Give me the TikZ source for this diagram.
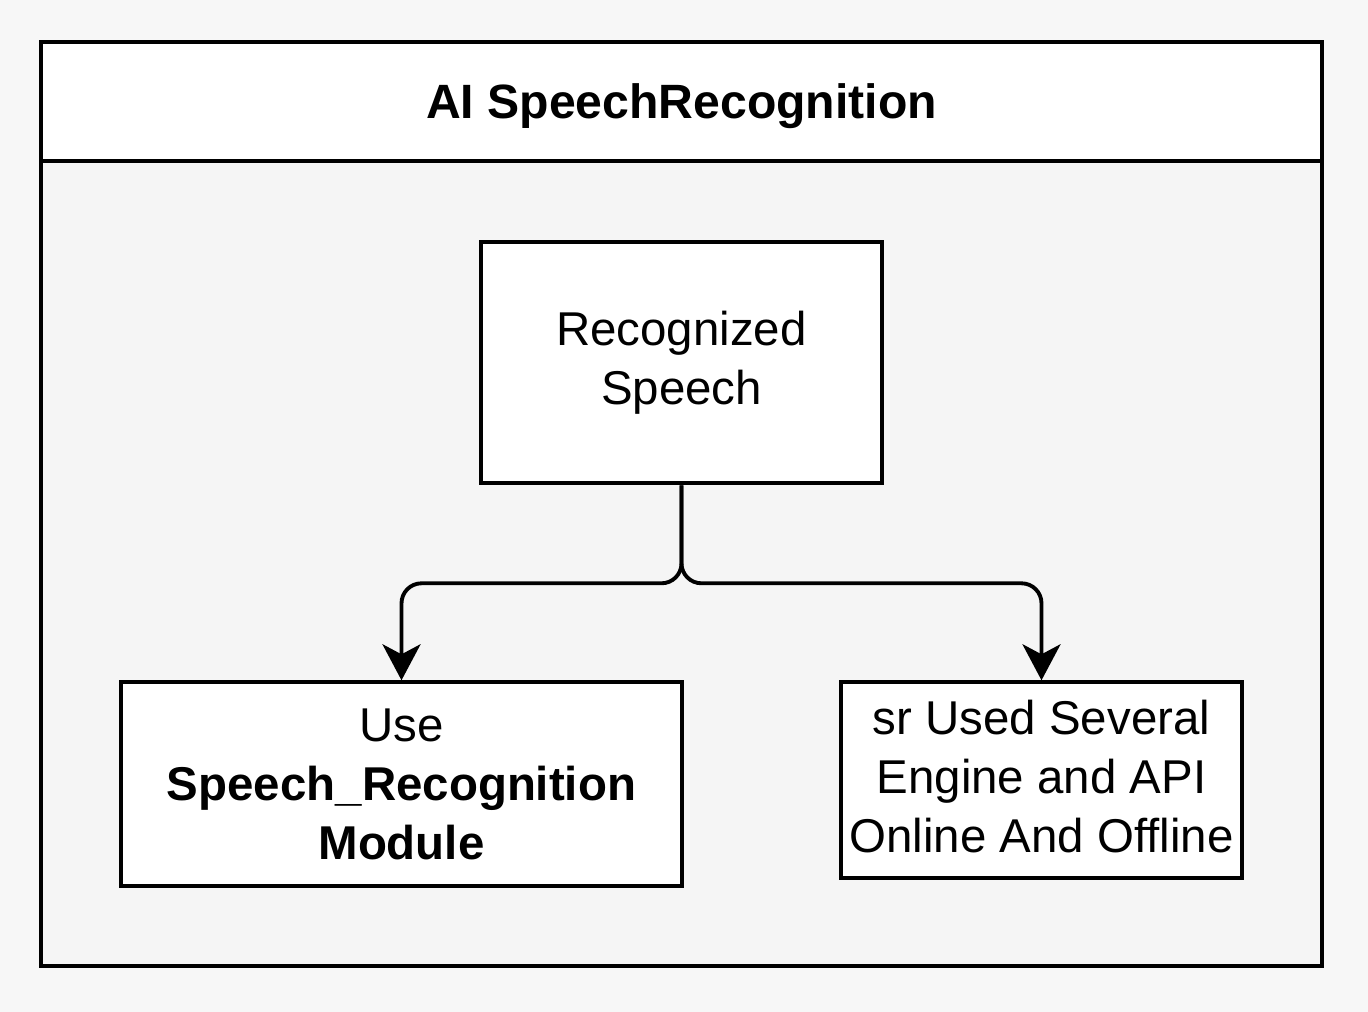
\documentclass[tikz,border=0pt]{standalone}
\usepackage{fontspec}
\setmainfont{Liberation Sans}
\usetikzlibrary{arrows.meta,positioning}
\definecolor{pagegray}{HTML}{F7F7F7}
\definecolor{bodygray}{HTML}{F5F5F5}
\tikzset{>={Stealth[length=0.72cm,width=0.76cm,inset=0.2cm]},auto}
\tikzset{box/.style={draw,line width=2.2pt,fill=white,align=center,inner sep=0pt,
        font=\fontsize{27}{33.5}\selectfont}}

\begin{document}
\begin{tikzpicture}[line width=2.2pt,node distance=1.55cm]
                    \fill[pagegray] (0,0) rectangle (27.36,-20.24);
                    \useasboundingbox (0,0) rectangle (27.36,-20.24);
                        \node[box,fill=bodygray,minimum width=25.62cm,minimum height=18.48cm] (cont) at (13.63,-10.08) {};
                        \node[box,anchor=north,minimum width=25.62cm,minimum height=2.38cm,text height=0.9cm,
                              font=\fontsize{27.4}{33.5}\selectfont\bfseries] (hdr) at (cont.north) {AI SpeechRecognition};
                        \node[box,minimum width=8.02cm,minimum height=4.82cm] (rec) [below=of hdr] {Recognized\\Speech};
                        \node[box,minimum width=11.22cm,minimum height=4.08cm] (use) [below=3.9cm of rec,xshift=-5.6cm]
                              {Use\\\textbf{Speech\_Recognition}\\\textbf{Module}};
                        \node[box,minimum width=8.02cm,minimum height=3.92cm,text depth=0.16cm] (eng) [below=3.9cm of rec,xshift=7.2cm]
                              {sr Used Several\\Engine and API\\Online And Offline};
                    \path[->,rounded corners=0.4cm]
                            (rec.south) edge[to path={-- ++(0,-1.96) -| (\tikztotarget)}] (use.north)
                            (rec.south) edge[to path={-- ++(0,-1.96) -| (\tikztotarget)}] (eng.north)
                            ;
            \end{tikzpicture}
\end{document}
